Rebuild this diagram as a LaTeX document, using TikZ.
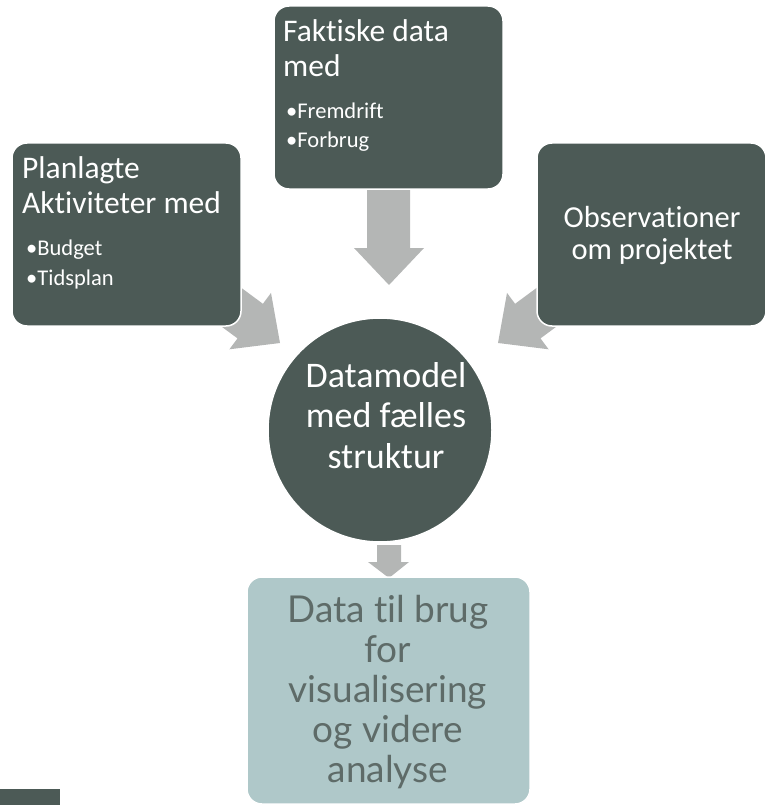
\documentclass[tikz,border=0pt]{standalone}
\usepackage{fontspec}
\setmainfont{Carlito}[Ligatures=NoCommon]
\newfontfamily\lightfont{Lato}[Ligatures=NoCommon]
\definecolor{dark}{HTML}{4C5A56}
\definecolor{arrowgray}{HTML}{B4B6B5}
\definecolor{teal}{HTML}{AFC8C9}
\definecolor{tealtext}{HTML}{5E6B68}
\begin{document}
\begin{tikzpicture}[x=1pt,y=-1pt,
  darkbox/.style={rectangle,rounded corners=15pt,fill=dark,draw=white,line width=1.5pt,inner sep=0pt},
  title/.style={text=white,inner sep=0pt,font=\fontsize{31.5}{35}\selectfont,align=left},
  bullets/.style={text=white,inner sep=0pt,font=\fontsize{22.5}{29.5}\selectfont,align=left},
  blockarrow/.style={fill=arrowgray}]
\useasboundingbox (0,0) rectangle (764,805);
% block arrows (behind boxes)
\fill[blockarrow] (367,185) -- (410,185) -- (410,248) -- (424,248) -- (389,285) -- (354,248) -- (367,248) -- cycle;
\fill[blockarrow] (218.7,271.1) -- (262.9,303.8) -- (271,292.9) -- (280,343) -- (229.4,349.3) -- (237.5,338.4) -- (193.3,305.7) -- cycle;
\fill[blockarrow] (559.3,271.1) -- (515.1,303.8) -- (507,292.9) -- (498,343) -- (548.6,349.3) -- (540.5,338.4) -- (584.7,305.7) -- cycle;
\fill[blockarrow] (377,545) -- (401,545) -- (401,562) -- (409,562) -- (389,578) -- (368,562) -- (377,562) -- cycle;
% boxes
\node[darkbox,minimum width=229pt,minimum height=183pt] (fakt) at (388.5,97.5) {};
\node[darkbox,minimum width=229pt,minimum height=183pt] (plan) at (126.5,234.5) {};
\node[darkbox,minimum width=229pt,minimum height=183pt] (obs) at (651.5,234.5) {};
\node[circle,fill=dark,draw=white,line width=1.5pt,minimum size=224pt,inner sep=0pt] (model) at (380,430) {};
\node[rectangle,rounded corners=15pt,fill=teal,draw=white,line width=1.5pt,minimum width=283pt,minimum height=227pt] (data) at (388.5,690.5) {};
% texts (base anchor = baseline of last line)
\node[title,anchor=base west] (fakttitle) at (283,77) {Faktiske data\\med};
\node[bullets,anchor=base west] (faktbul) at (286,148) {•Fremdrift\\•Forbrug};
\node[title,anchor=base west] (plantitle) at (22,213) {Planlagte\\Aktiviteter med};
\node[bullets,anchor=base west] (planbul) at (26,285) {•Budget\\•Tidsplan};
\node[text=white,inner sep=0pt,align=center,font=\fontsize{30.5}{32.5}\selectfont,anchor=base] (obstitle) at (652,259.5) {Observationer\\om projektet};
\node[text=white,inner sep=0pt,align=center,font=\fontsize{36}{40.5}\selectfont,anchor=base] (modeltext) at (386,468) {Datamodel\\med fælles\\struktur};
\node[text=tealtext,inner sep=0pt,align=center,font=\lightfont\fontsize{37}{40}\selectfont,anchor=base] (datatext) at (388,782) {Data til brug\\for\\visualisering\\og videre\\analyse};
% small rectangle bottom left
\fill[dark] (0,789) rectangle (60,805);
\end{tikzpicture}
\end{document}
